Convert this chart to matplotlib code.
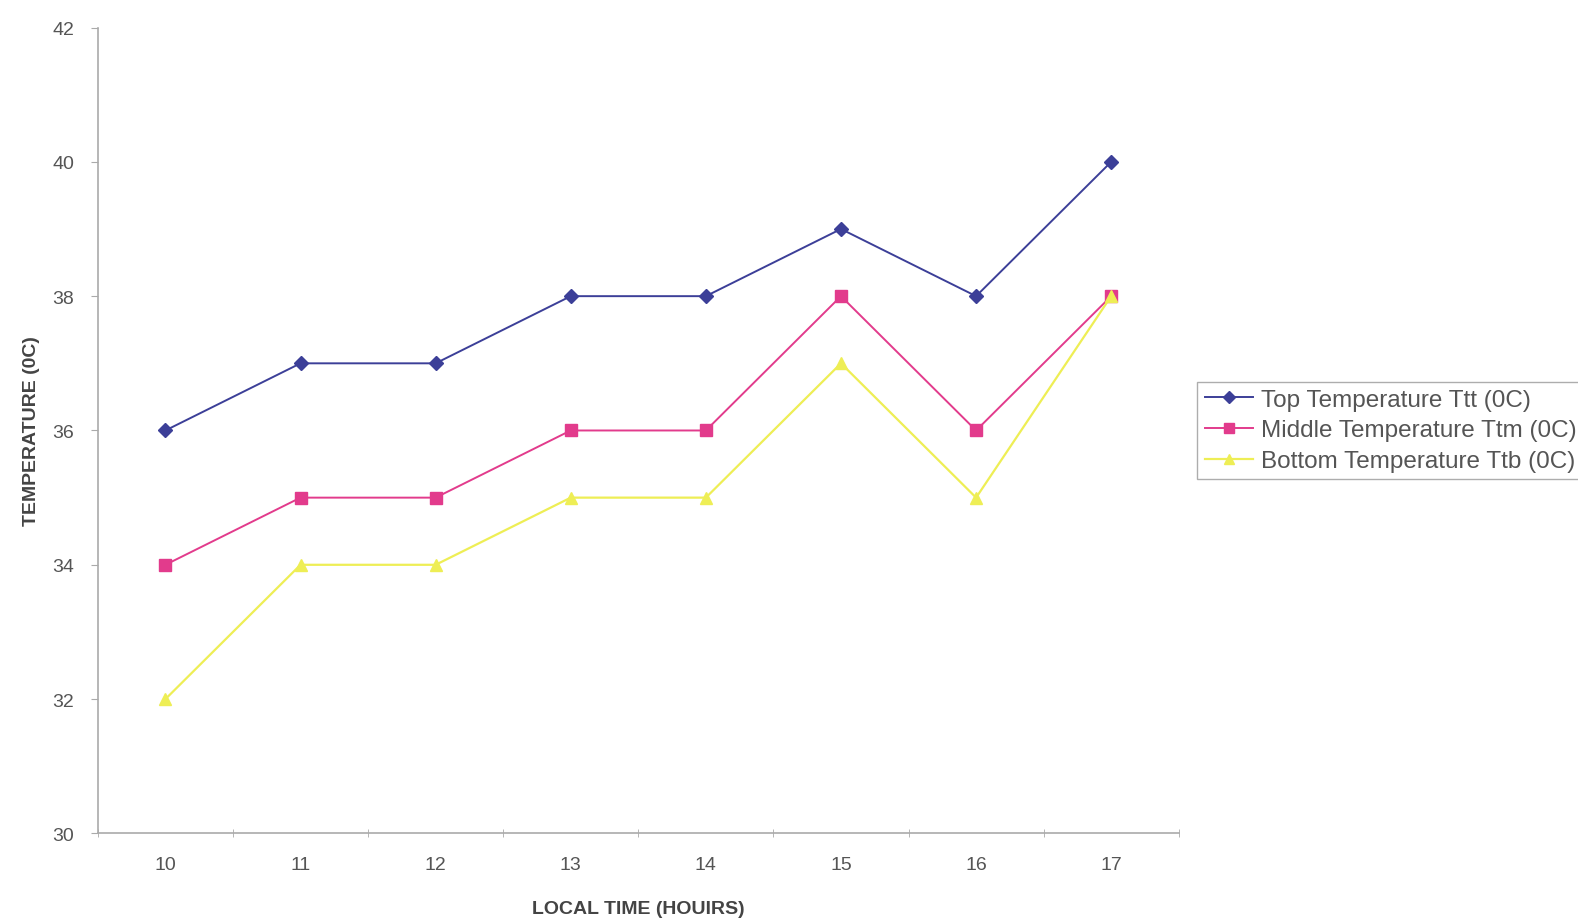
import matplotlib
matplotlib.use('Agg')
import numpy as np
import matplotlib.pyplot as plt

plt.rcParams['font.family'] = ['Liberation Sans', 'DejaVu Sans']

# data
hours = [10, 11, 12, 13, 14, 15, 16, 17]
top_temp = [36, 37, 37, 38, 38, 39, 38, 40]
middle_temp = [34, 35, 35, 36, 36, 38, 36, 38]
bottom_temp = [32, 34, 34, 35, 35, 37, 35, 38]
y_ticks = [30, 32, 34, 36, 38, 40, 42]

fig = plt.figure(figsize=(15.78, 9.2), dpi=100)
ax = fig.add_axes([0.062, 0.093, 0.685, 0.876])

ax.plot(hours, top_temp, color='#3c3f98', marker='D', markersize=7, lw=1.4,
        label='Top Temperature Ttt (0C)')
ax.plot(hours, middle_temp, color='#e23b8c', marker='s', markersize=8, lw=1.4,
        label='Middle Temperature Ttm (0C)')
ax.plot(hours, bottom_temp, color='#eeee55', marker='^', markersize=8, lw=1.6,
        label='Bottom Temperature Ttb (0C)')

ax.set_xlim(9.5, 17.5)
ax.set_ylim(30, 42)
ax.set_yticks(y_ticks)
ax.set_xticks(hours)
ax.set_xticks(np.arange(9.5, 18, 1), minor=True)
ax.tick_params(axis='x', which='major', length=0, pad=16, labelsize=14, labelcolor='#555555')
ax.tick_params(axis='x', which='minor', length=6, direction='inout', color='#aaaaaa')
ax.tick_params(axis='y', length=5, direction='out', color='#aaaaaa', pad=12,
               labelsize=14, labelcolor='#555555')

for s in ['top', 'right']:
    ax.spines[s].set_visible(False)
for s in ['left', 'bottom']:
    ax.spines[s].set_color('#aaaaaa')
    ax.spines[s].set_linewidth(1.2)

ax.set_ylabel('TEMPERATURE (0C)', fontsize=14, fontweight='bold', color='#444444', labelpad=9)
ax.set_xlabel('LOCAL TIME (HOUIRS)', fontsize=14, fontweight='bold', color='#444444', labelpad=20)

leg = ax.legend(loc='center left', bbox_to_anchor=(1.006, 0.5), fontsize=17.5,
                frameon=True, fancybox=False, edgecolor='#999999',
                handlelength=2.0, handletextpad=0.3, borderpad=0.3, labelspacing=0.35,
                markerscale=0.9)
for t in leg.get_texts():
    t.set_color('#555555')

fig.savefig('out.png', dpi=100, facecolor='white')
